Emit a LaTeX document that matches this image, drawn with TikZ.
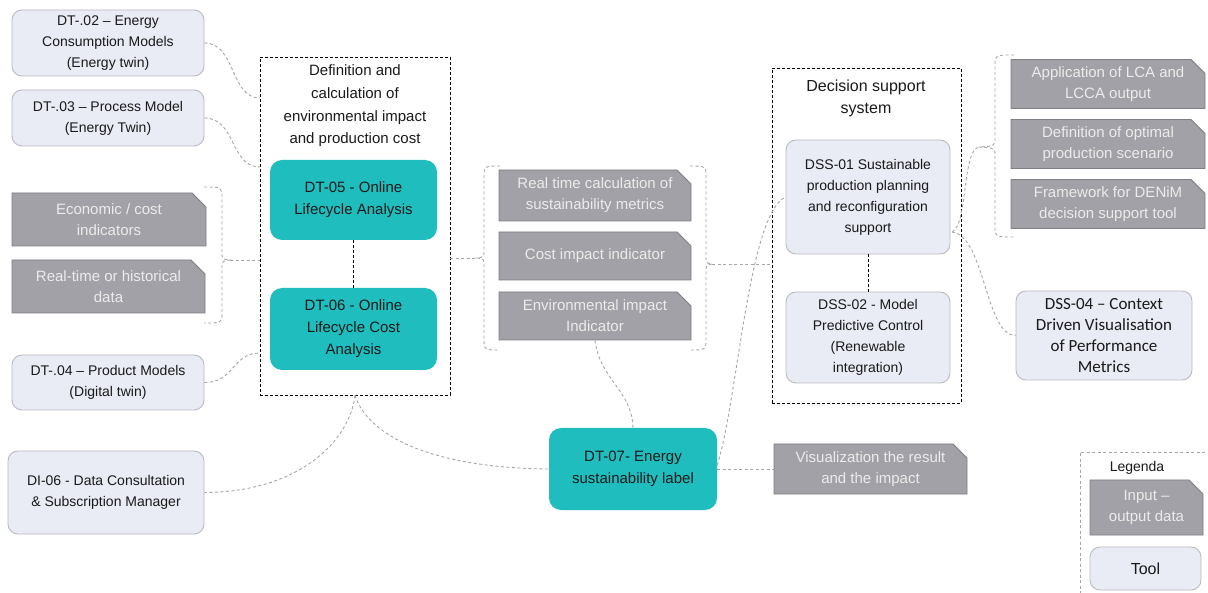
\documentclass[tikz,border=0pt]{standalone}
\usepackage{fontspec}
\setmainfont{Liberation Sans}
\newfontfamily\calibrifont{Carlito}
\usetikzlibrary{shapes.misc}

\definecolor{toolfill}{HTML}{E9EBF5}
\definecolor{toolline}{HTML}{B9BAC2}
\definecolor{tealfill}{HTML}{1FBDBD}
\definecolor{datafill}{HTML}{A1A1A7}
\definecolor{dataline}{HTML}{7E7E84}
\definecolor{datatext}{HTML}{ECECEC}
\definecolor{linkgray}{HTML}{A6A6A6}
\definecolor{inktext}{HTML}{1A1A1A}

\tikzset{
  sz/.style 2 args={minimum width=#1pt, minimum height=#2pt},
  toolbox/.style={draw=toolline, fill=toolfill, line width=0.9pt, rounded corners=10pt,
    align=center, inner sep=0pt, text=inktext, font=\fontsize{14}{21}\selectfont},
  tealbox/.style={fill=tealfill, rounded corners=12pt, align=center, inner sep=0pt,
    text=inktext, font=\fontsize{15}{22}\selectfont},
  databox/.style={chamfered rectangle, chamfered rectangle corners=north east,
    chamfered rectangle xsep=7pt, chamfered rectangle ysep=7pt,
    draw=dataline, fill=datafill, line width=0.9pt, text=datatext, align=center,
    inner sep=0pt, font=\fontsize{15}{21}\selectfont},
  groupbox/.style={draw=black, line width=0.9pt, dash pattern=on 3pt off 2pt, inner sep=0pt},
  link/.style={draw=linkgray, line width=0.9pt, dash pattern=on 3pt off 2.5pt},
  innerlink/.style={draw=black, line width=0.9pt, dash pattern=on 3pt off 2pt},
  titletext/.style={align=center, inner sep=0pt, text=inktext},
}

\begin{document}
\begin{tikzpicture}[x=1pt, y=-1pt]
\useasboundingbox[fill=white] (0,0) rectangle (1208,593);

% ---- group frames ----
\node[groupbox, sz={190}{338}] (box1) at (355,226) {};
\node[groupbox, sz={189}{335}] (box2) at (866.5,235.5) {};
\node[titletext, font=\fontsize{15}{22.7}\selectfont] (box1title) at (355,106)
  {Definition and\\calculation of\\environmental impact\\and production cost};
\node[titletext, font=\fontsize{16}{22}\selectfont] (box2title) at (866,98)
  {Decision support\\system};

% ---- tools on the left ----
\node[toolbox, sz={192}{66}] (t02) at (108,43) {DT-.02 – Energy\\Consumption Models\\(Energy twin)};
\node[toolbox, sz={192}{56}] (t03) at (108,118) {DT-.03 – Process Model\\(Energy Twin)};
\node[databox, sz={194}{53}] (econ) at (109,219.5) {Economic / cost\\indicators};
\node[databox, sz={193}{53}] (rtdata) at (108.5,286.5) {Real-time or historical\\data};
\node[toolbox, sz={192}{55}] (t04) at (108,382.5) {DT-.04 – Product Models\\(Digital twin)};
\node[toolbox, sz={196}{83}] (di06) at (106,492.5) {DI-06 - Data Consultation\\\& Subscription Manager};

% ---- lifecycle analysis tools ----
\node[tealbox, sz={167}{80}] (dt05) at (353.5,200) {DT-05 - Online\\Lifecycle Analysis};
\node[tealbox, sz={167}{82}] (dt06) at (353.5,329) {DT-06 - Online\\Lifecycle Cost\\Analysis};

% ---- sustainability metrics ----
\node[databox, sz={192}{51}] (rtc) at (595,195.5) {Real time calculation of\\sustainability metrics};
\node[databox, sz={192}{48}] (cost) at (595,256) {Cost impact indicator};
\node[databox, sz={192}{48}] (env) at (595,316) {Environmental impact\\Indicator};

% ---- decision support ----
\node[toolbox, sz={164}{114}] (dss01) at (868,197) {DSS-01 Sustainable\\production planning\\and reconfiguration\\support};
\node[toolbox, sz={164}{91}] (dss02) at (868,337.5) {DSS-02 - Model\\Predictive Control\\(Renewable\\integration)};
\node[databox, sz={194}{48}] (lca) at (1108,84) {Application of LCA and\\LCCA output};
\node[databox, sz={194}{48}] (opt) at (1108,144) {Definition of optimal\\production scenario};
\node[databox, sz={194}{48}] (fw) at (1108,204) {Framework for DENiM\\decision support tool};
\node[toolbox, sz={176}{89}, font=\calibrifont\fontsize{17}{21}\selectfont] (dss04) at (1104,335.5)
  {DSS-04 – Context\\Driven Visualisation\\of Performance\\Metrics};

% ---- label ----
\node[tealbox, sz={168}{82}] (dt07) at (633,469) {DT-07- Energy\\sustainability label};
\node[databox, sz={193}{50}] (vis) at (870.5,469) {Visualization the result\\and the impact};

% ---- legend ----
\draw[link] (1216,452) -- (1080,452) -- (1080,600);
\node[titletext, font=\fontsize{14}{18}\selectfont] (legtitle) at (1137,468) {Legenda};
\node[databox, sz={113}{55}] (legdata) at (1146.5,507.5) {Input –\\output data};
\node[toolbox, sz={111}{43}, font=\fontsize{16}{20}\selectfont] (legtool) at (1145.5,568.5) {Tool};

% ---- attachment points on frames and brackets ----
\coordinate (in02) at (260,98);
\coordinate (in03) at (260,167);
\coordinate (in04) at (260,353);
\coordinate (lbnub) at (230,260);
\coordinate (in1data) at (260,260);
\coordinate (mlnub) at (477,258);
\coordinate (out1) at (450,258);
\coordinate (mrnub) at (712,264);
\coordinate (in2) at (772,264);
\coordinate (rbnub) at (979,147);
\coordinate (dssout) at (952,232);

% ---- links into the first frame ----
\draw[link] (t02.east) .. controls (236,43) and (230,98) .. (in02);
\draw[link] (t03.east) .. controls (236,118) and (230,167) .. (in03);
\draw[link] (t04.east) .. controls (234,383) and (232,353) .. (in04);
\draw[link] (204,187) .. controls (222,187) .. (222,198) -- (222,252)
  .. controls (222,259) .. (lbnub) .. controls (222,261) .. (222,268) -- (222,312)
  .. controls (222,323) .. (204,323);
\draw[link] (lbnub) -- (in1data);

% ---- links around the metrics ----
\draw[link] (500,166) .. controls (484,166) .. (484,178) -- (484,250)
  .. controls (484,257) .. (mlnub) .. controls (484,259) .. (484,266) -- (484,338)
  .. controls (484,350) .. (500,350);
\draw[link] (out1) -- (mlnub);
\draw[link] (690,166) .. controls (706,166) .. (706,178) -- (706,256)
  .. controls (706,263) .. (mrnub) .. controls (706,265) .. (706,272) -- (706,338)
  .. controls (706,350) .. (690,350);
\draw[link] (mrnub) -- (in2);

% ---- links from the first frame ----
\draw[link] (box1.south) .. controls (350,440) and (300,492) .. (di06.east);
\draw[link] (box1.south) .. controls (370,440) and (440,468) .. (dt07.west);
\draw[link] (env.south) .. controls (600,380) and (632,390) .. (dt07.north);
\draw[link] ([yshift=4pt]dt07.east) .. controls (738,400) and (748,215) .. (dss01.west);
\draw[link] (dt07.east) -- (vis.west);

% ---- links from DSS-01 ----
\draw[link] (1014,55) .. controls (995,55) .. (995,65) -- (995,138)
  .. controls (995,146) .. (rbnub) .. controls (995,148) .. (995,156) -- (995,227)
  .. controls (995,237) .. (1014,237);
\draw[link] (dssout) .. controls (968,225) and (962,150) .. (rbnub);
\draw[link] (dssout) .. controls (985,236) and (985,335) .. (dss04.west);

% ---- links inside frames ----
\draw[innerlink] (dt05.south) -- (dt06.north);
\draw[innerlink] (dss01.south) -- (dss02.north);
\end{tikzpicture}
\end{document}
